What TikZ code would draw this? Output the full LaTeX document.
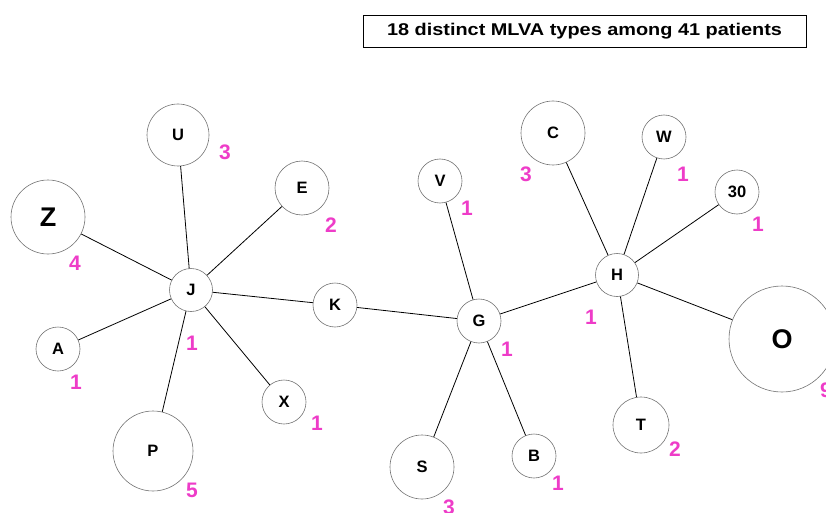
\documentclass[tikz,border=0pt]{standalone}
\usepackage{fontspec}
\setmainfont{Liberation Sans}
\usepackage{graphicx}
\definecolor{countpink}{RGB}{238,60,200}
\begin{document}
\begin{tikzpicture}[x=1pt,y=-1pt,
  type/.style={draw=black!55,line width=0.6pt,circle,inner sep=0pt,font=\fontsize{16.5}{16.5}\selectfont\bfseries},
  bigtype/.style={type,font=\fontsize{27}{27}\selectfont\bfseries},
  count/.style={text=countpink,inner sep=0pt,font=\fontsize{21}{21}\selectfont\bfseries},
  link/.style={black,line width=0.8pt}]
\useasboundingbox (0,0) rectangle (826,513);
\node [draw,line width=0.8pt,minimum width=443,minimum height=32,inner sep=0pt,font=\fontsize{17}{17}\selectfont\bfseries] (title) at (584.5,31) {\scalebox{1.17}[1]{18 distinct MLVA types among 41 patients}};
\node [type,minimum size=62] (U) at (178,135) {U};
\node [type,minimum size=54] (E) at (302,188) {E};
\node [bigtype,minimum size=74] (Z) at (48,217) {Z};
\node [type,minimum size=43] (J) at (191,290) {J};
\node [type,minimum size=44] (K) at (335,305) {K};
\node [type,minimum size=44] (A) at (58,349) {A};
\node [type,minimum size=44] (X) at (284,402) {X};
\node [type,minimum size=80] (P) at (153,451) {P};
\node [type,minimum size=44] (V) at (440,181) {V};
\node [type,minimum size=64] (C) at (553,133) {C};
\node [type,minimum size=44] (W) at (664,137) {W};
\node [type,minimum size=44] (T30) at (737,192) {30};
\node [type,minimum size=43] (H) at (617,275) {H};
\node [type,minimum size=44] (G) at (479,321) {G};
\node [bigtype,minimum size=106] (O) at (782,339) {O};
\node [type,minimum size=56] (T) at (641,425) {T};
\node [type,minimum size=44] (B) at (534,456) {B};
\node [type,minimum size=64] (S) at (422,467) {S};
\node [count] (nU) at (225,152) {3};
\node [count] (nE) at (331,225) {2};
\node [count] (nZ) at (75,263) {4};
\node [count] (nJ) at (192,343) {1};
\node [count] (nA) at (76,382) {1};
\node [count] (nX) at (317,423) {1};
\node [count] (nP) at (192,490) {5};
\node [count] (nV) at (467,208) {1};
\node [count] (nC) at (526,174) {3};
\node [count] (nW) at (683,174) {1};
\node [count] (nT30) at (758,224) {1};
\node [count] (nH) at (591,317) {1};
\node [count] (nG) at (507,349) {1};
\node [count] (nO) at (826,390) {9};
\node [count] (nT) at (675,449) {2};
\node [count] (nB) at (558,483) {1};
\node [count] (nS) at (449,507) {3};
\draw [link] (J) -- (U);
\draw [link] (J) -- (E);
\draw [link] (J) -- (Z);
\draw [link] (J) -- (A);
\draw [link] (J) -- (P);
\draw [link] (J) -- (X);
\draw [link] (J) -- (K);
\draw [link] (K) -- (G);
\draw [link] (G) -- (V);
\draw [link] (G) -- (S);
\draw [link] (G) -- (B);
\draw [link] (G) -- (H);
\draw [link] (H) -- (C);
\draw [link] (H) -- (W);
\draw [link] (H) -- (T30);
\draw [link] (H) -- (O);
\draw [link] (H) -- (T);
\end{tikzpicture}
\end{document}
